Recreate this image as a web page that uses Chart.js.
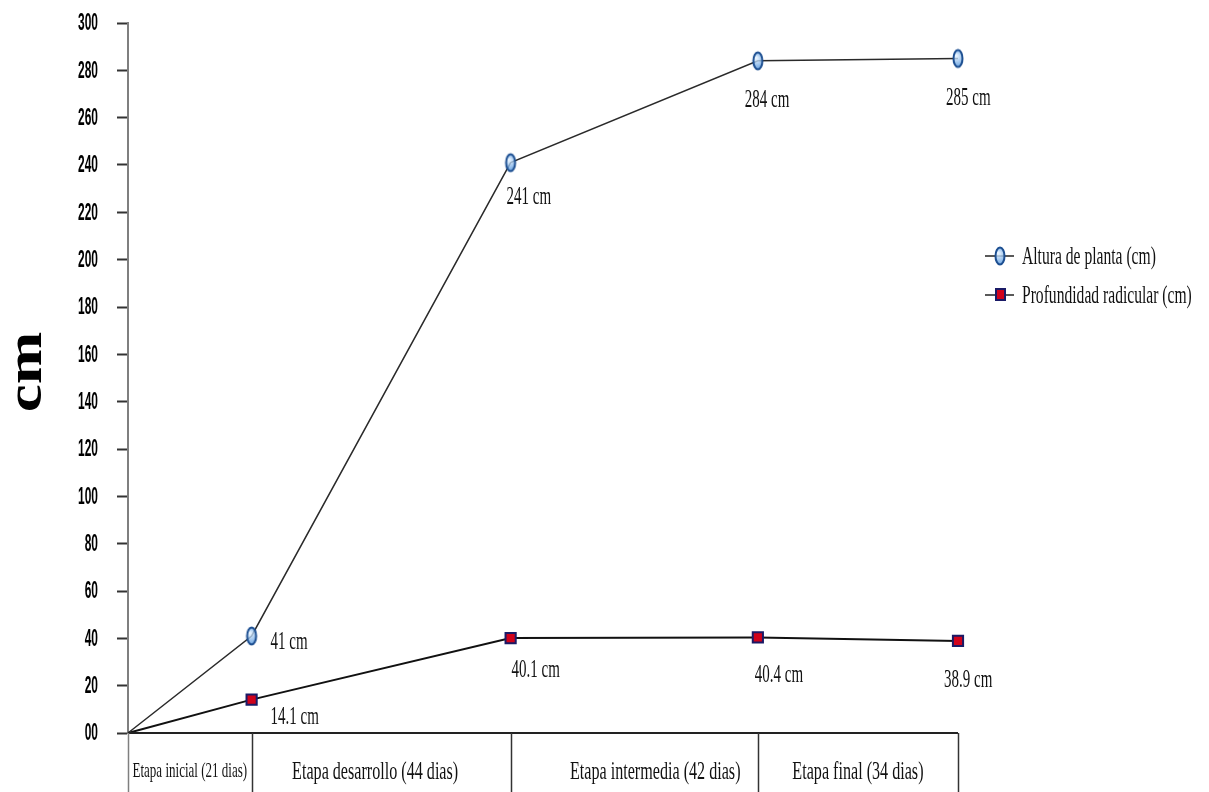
<!DOCTYPE html>
<html><head><meta charset="utf-8">
<script src="https://cdn.jsdelivr.net/npm/chart.js@4.4.0/dist/chart.umd.min.js"></script>
<style>html,body{margin:0;padding:0;background:#fff;}#wrap{width:1209px;height:792px;}</style>
</head><body><div id="wrap"><canvas id="c" width="1209" height="792"></canvas></div>
<script>
const stageNames = ['Etapa inicial (21 dias)', 'Etapa desarrollo (44 dias)', 'Etapa intermedia (42 dias)', 'Etapa final (34 dias)'];
const stageDays = [21, 44, 42, 34];
const dayPoints = [0, 21, 65, 107, 141];
const alturaValues = [0, 41, 241, 284, 285];
const raizValues = [0, 14.1, 40.1, 40.4, 38.9];
const alturaLabels = ['', '41 cm', '241 cm', '284 cm', '285 cm'];
const raizLabels = ['', '14.1 cm', '40.1 cm', '40.4 cm', '38.9 cm'];
const yTickValues = [0, 20, 40, 60, 80, 100, 120, 140, 160, 180, 200, 220, 240, 260, 280, 300];
const yTickLabels = ['00', '20', '40', '60', '80', '100', '120', '140', '160', '180', '200', '220', '240', '260', '280', '300'];
const seriesNames = ['Altura de planta (cm)', 'Profundidad radicular (cm)'];
const yTitle = 'cm';

const SERIF = "'Liberation Serif','Times New Roman',serif";
const SANS = "'Liberation Sans',Arial,sans-serif";

function makeCircle() {
  const c = document.createElement('canvas');
  c.width = 14; c.height = 22;
  const g = c.getContext('2d');
  const grd = g.createRadialGradient(5, 8, 1, 7, 11, 9);
  grd.addColorStop(0, 'rgba(225,240,255,0.8)');
  grd.addColorStop(1, 'rgba(60,135,215,0.8)');
  g.beginPath();
  g.ellipse(7, 11, 4.5, 8.5, 0, 0, 2 * Math.PI);
  g.fillStyle = grd; g.fill();
  g.lineWidth = 2; g.strokeStyle = '#1d4f91'; g.stroke();
  return c;
}
const circleImg = makeCircle();

function txt(ctx, text, x, y, font, sx, align, baseline, color) {
  ctx.save();
  ctx.font = font;
  ctx.translate(x, y);
  ctx.scale(sx, 1);
  ctx.textAlign = align;
  ctx.textBaseline = baseline || 'alphabetic';
  ctx.fillStyle = color || '#111';
  ctx.fillText(text, 0, 0);
  ctx.restore();
}

// label offsets (dx to left edge, dy to baseline) relative to each point
const labelOffsets = [
  [[0,0],[19,13],[-4,41],[-13,46],[-12,46]],
  [[0,0],[19,24],[1,39],[-3,45],[-14,46]]
];
const stageTextShift = [0, -6, 21, 0];

const overlay = {
  id: 'overlay',
  afterDraw(chart) {
    const ctx = chart.ctx;
    const xs = chart.scales.x, ys = chart.scales.y;
    const area = chart.chartArea;
    // y tick labels (condensed)
    yTickValues.forEach((v, i) => {
      const py = ys.getPixelForValue(v);
      txt(ctx, yTickLabels[i], 98, py + 1, 'bold 23px ' + SANS, 0.52, 'right', 'middle', '#000');
    });
    // data labels
    [alturaLabels, raizLabels].forEach((labels, si) => {
      const vals = si === 0 ? alturaValues : raizValues;
      labels.forEach((t, i) => {
        if (!t) return;
        const px = xs.getPixelForValue(dayPoints[i]);
        const py = ys.getPixelForValue(vals[i]);
        const o = labelOffsets[si][i];
        txt(ctx, t, px + o[0], py + o[1], '25px ' + SERIF, 0.6, 'left');
      });
    });
    // bottom stage table
    ctx.save();
    ctx.strokeStyle = '#222';
    ctx.lineWidth = 2;
    ctx.beginPath();
    ctx.moveTo(area.left, area.bottom);
    ctx.lineTo(area.right, area.bottom);
    ctx.stroke();
    let acc = 0;
    const bounds = [0];
    stageDays.forEach(d => { acc += d; bounds.push(acc); });
    ctx.lineWidth = 1.5;
    bounds.forEach((b, i) => {
      const bx = Math.round(xs.getPixelForValue(b)) + 0.5;
      ctx.strokeStyle = i === 0 ? '#7f7f7f' : '#333';
      ctx.beginPath();
      ctx.moveTo(bx, area.bottom);
      ctx.lineTo(bx, chart.height);
      ctx.stroke();
    });
    ctx.restore();
    stageNames.forEach((n, i) => {
      const x0 = xs.getPixelForValue(bounds[i]);
      const x1 = xs.getPixelForValue(bounds[i + 1]);
      const small = i === 0;
      txt(ctx, n, (x0 + x1) / 2 + stageTextShift[i], small ? 777 : 779, (small ? '21px ' : '26px ') + SERIF, 0.62, 'center');
    });
    // legend
    const lx = 985, ly = [256, 295];
    ctx.save();
    ctx.strokeStyle = '#222';
    ctx.lineWidth = 1.5;
    ly.forEach((y, i) => {
      ctx.beginPath();
      ctx.moveTo(lx, y); ctx.lineTo(lx + 29, y); ctx.stroke();
      if (i === 0) {
        ctx.drawImage(circleImg, lx + 15 - 7, y - 11);
      } else {
        ctx.fillStyle = '#d0021b';
        ctx.fillRect(lx + 11, y - 6, 9, 11);
        ctx.strokeStyle = '#1a1a66'; ctx.lineWidth = 2;
        ctx.strokeRect(lx + 11, y - 6, 9, 11);
      }
      txt(ctx, seriesNames[i], lx + 37, y + 8, '26px ' + SERIF, 0.6, 'left');
    });
    ctx.restore();
    // y title
    ctx.save();
    ctx.translate(28, 372);
    ctx.rotate(-Math.PI / 2);
    ctx.scale(1, 0.8);
    ctx.font = 'bold 63px ' + SERIF;
    ctx.textAlign = 'center';
    ctx.textBaseline = 'middle';
    ctx.fillStyle = '#000';
    ctx.fillText(yTitle, 0, 0);
    ctx.restore();
  }
};

new Chart(document.getElementById('c'), {
  type: 'line',
  data: {
    datasets: [
      {
        label: seriesNames[0],
        data: dayPoints.map((d, i) => ({ x: d, y: alturaValues[i] })),
        borderColor: '#2a2a2a', borderWidth: 1.5,
        pointStyle: dayPoints.map((d, i) => i === 0 ? false : circleImg),
        pointRadius: 9, tension: 0, clip: false
      },
      {
        label: seriesNames[1],
        data: dayPoints.map((d, i) => ({ x: d, y: raizValues[i] })),
        borderColor: '#111', borderWidth: 2,
        pointStyle: 'rect',
        pointRadius: dayPoints.map((d, i) => i === 0 ? 0 : 7.2),
        backgroundColor: '#d0021b', pointBorderColor: '#1a1a66', pointBorderWidth: 2,
        tension: 0, clip: false
      }
    ]
  },
  options: {
    responsive: false,
    animation: false,
    layout: { padding: { top: 23, bottom: 59, right: 251, left: 0 } },
    plugins: { legend: { display: false }, tooltip: { enabled: false } },
    scales: {
      x: { type: 'linear', min: 0, max: stageDays.reduce((a, b) => a + b, 0), display: false },
      y: {
        min: 0, max: 300,
        afterBuildTicks(s) { s.ticks = yTickValues.map(v => ({ value: v })); },
        afterFit(s) { s.width = 128; },
        ticks: { display: false },
        grid: { drawOnChartArea: false, drawTicks: true, tickLength: 11, tickColor: '#333', tickWidth: 2 },
        border: { display: true, color: '#7f7f7f', width: 2 }
      }
    }
  },
  plugins: [overlay]
});
</script>
</body></html>
